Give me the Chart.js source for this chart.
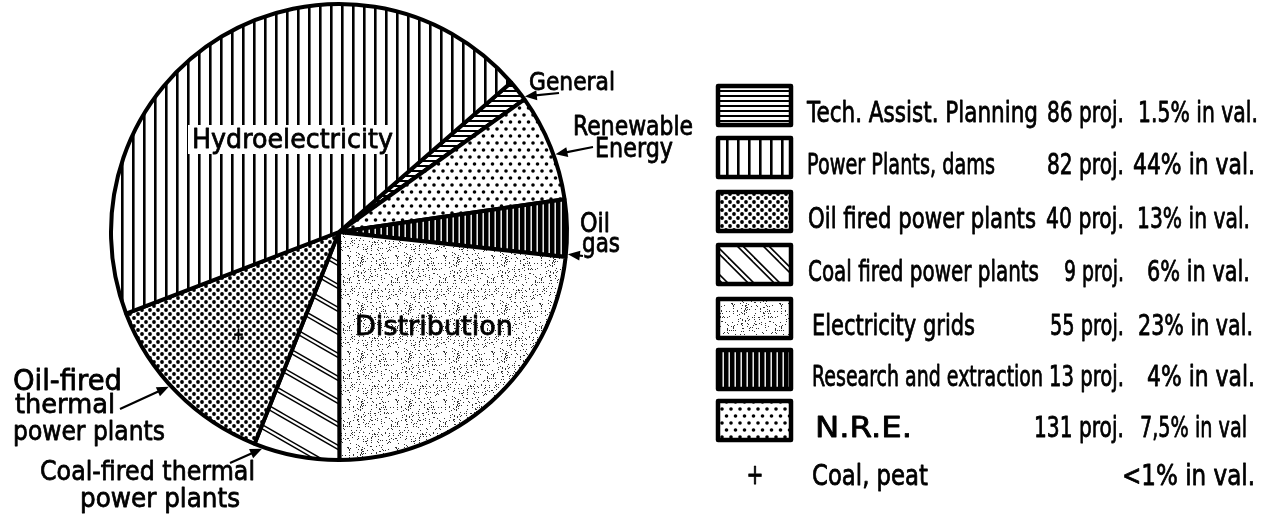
<!DOCTYPE html>
<html>
<head>
<meta charset="utf-8">
<script src="https://cdn.jsdelivr.net/npm/chart.js@4"></script>
<style>
  html, body { margin: 0; background: #fff; }
  #wrap { width: 1275px; height: 516px; }
</style>
</head>
<body>
<div id="wrap"><canvas id="pie" width="1275" height="516"></canvas></div>
<script>
// Slices, clockwise from the top right (General)
const sliceLabels = ['General', 'Renewable Energy', 'Oil gas', 'Distribution',
  'Coal-fired thermal power plants', 'Oil-fired thermal power plants', 'Hydroelectricity'];
const sliceValues = [1.5, 7.5, 4, 23, 6, 13, 44];
const sliceFills = ['hLines', 'sparseDots', 'blackBars', 'stipple', 'diagonal', 'denseDots', 'vLines'];

// Legend rows
const legendNames = ['Tech. Assist. Planning', 'Power Plants, dams', 'Oil fired power plants',
  'Coal fired power plants', 'Electricity grids', 'Research and extraction', 'N.R.E.', 'Coal, peat'];
const legendProjects = ['86 proj.', '82 proj.', '40 proj.', '9 proj.', '55 proj.', '13 proj.', '131 proj.', ''];
const legendShares = ['1.5% in val.', '44% in val.', '13% in val.', '6% in val.',
  '23% in val.', '4% in val.', '7,5% in val', '<1% in val.'];
const legendFills = ['hLines', 'vLines', 'denseDots', 'diagonal45', 'stipple', 'blackBars', 'sparseDots', null];

const FONT = '"DejaVu Sans", "Liberation Sans", sans-serif';

// --- hatch patterns -------------------------------------------------------
function tile(w, h, draw) {
    const c = document.createElement('canvas');
    c.width = w; c.height = h;
    const g = c.getContext('2d');
    g.fillStyle = '#fff';
    g.fillRect(0, 0, w, h);
    g.fillStyle = '#000';
    g.strokeStyle = '#000';
    draw(g, w, h);
    return c;
}

function dots(g, pts, r) {
    pts.forEach(([x, y]) => { g.beginPath(); g.arc(x, y, r, 0, Math.PI * 2); g.fill(); });
}

function slanted(g, w, h, gap, lw) {
    const len = Math.hypot(w, h);
    const px = -h / len, py = w / len;
    g.lineWidth = lw;
    for (let k = -2; k <= 2; k++) {
        [-gap / 2, gap / 2].forEach(o => {
            g.beginPath();
            g.moveTo(k * w - w + px * o, -h + py * o);
            g.lineTo(k * w + 2 * w + px * o, 2 * h + py * o);
            g.stroke();
        });
    }
}

// small integer hash for the dust texture
function hash(i) {
    let x = Math.imul(i ^ 0x9e3779b9, 0x85ebca6b);
    x ^= x >>> 13;
    x = Math.imul(x, 0xc2b2ae35);
    x ^= x >>> 16;
    return x >>> 0;
}

const tiles = {
    hLines: tile(8, 5, g => g.fillRect(0, 0, 8, 2)),
    vLines: tile(11, 8, g => g.fillRect(0, 0, 2.6, 8)),
    sparseDots: tile(9, 14, g => dots(g, [[2, 3], [6.5, 10]], 1.8)),
    denseDots: tile(8, 8, g => dots(g, [[2, 2], [6, 6]], 1.9)),
    blackBars: tile(6, 4, g => { g.fillRect(0, 0, 6, 4); g.fillStyle = '#fff'; g.fillRect(2.5, 0, 1.4, 4); }),
    stipple: tile(48, 48, g => {
        g.fillStyle = '#333';
        for (let i = 0; i < 230; i++) {
            const v = hash(i + 17);
            g.fillRect(v % 48, (v >>> 8) % 48, 1, 1);
        }
    }),
    diagonal: tile(40, 23, (g, w, h) => slanted(g, w, h, 3.6, 1.4)),
    diagonal45: tile(26, 26, (g, w, h) => slanted(g, w, h, 4, 1.7))
};

const cv = document.getElementById('pie');
const ctx = cv.getContext('2d');
const fills = {};
Object.keys(tiles).forEach(k => fills[k] = ctx.createPattern(tiles[k], 'repeat'));

// --- text helpers ---------------------------------------------------------
// draws text squeezed to a given width, like the narrow hand lettering
function fitText(c, text, x, y, width, size, align) {
    c.save();
    c.font = size + 'px ' + FONT;
    const w = c.measureText(text).width;
    const left = align === 'right' ? x - width : align === 'center' ? x - width / 2 : x;
    c.translate(left, y);
    c.scale(width / w, 1);
    c.textAlign = 'left';
    c.textBaseline = 'alphabetic';
    c.fillStyle = '#000';
    c.strokeStyle = '#000';
    c.lineWidth = 0.8;
    c.lineJoin = 'round';
    c.fillText(text, 0, 0);
    c.strokeText(text, 0, 0);
    c.restore();
}

function arrow(c, x0, y0, x1, y1) {
    const a = Math.atan2(y1 - y0, x1 - x0);
    c.save();
    c.strokeStyle = '#000';
    c.fillStyle = '#000';
    c.lineWidth = 2.2;
    c.beginPath(); c.moveTo(x0, y0); c.lineTo(x1 - 8 * Math.cos(a), y1 - 8 * Math.sin(a)); c.stroke();
    c.beginPath();
    c.moveTo(x1, y1);
    c.lineTo(x1 - 12 * Math.cos(a) + 5 * Math.sin(a), y1 - 12 * Math.sin(a) - 5 * Math.cos(a));
    c.lineTo(x1 - 12 * Math.cos(a) - 5 * Math.sin(a), y1 - 12 * Math.sin(a) + 5 * Math.cos(a));
    c.closePath(); c.fill();
    c.restore();
}

// text lines around the pie: [text, left x, baseline, width, size]
const pieText = [
    ['Hydroelectricity', 192, 148, 201, 27],
    ['Distribution', 355, 335, 158, 26],
    ['General', 529, 90, 86, 24],
    ['Renewable', 573, 135, 120, 26],
    ['Energy', 595, 157, 78, 26],
    ['Oil', 580, 232, 30, 26],
    ['gas', 582, 252, 38, 26],
    ['Oil-fired', 13, 390, 109, 28],
    ['thermal', 15, 413, 100, 27],
    ['power plants', 13, 440, 152, 27],
    ['Coal-fired thermal', 40, 480, 215, 27],
    ['power plants', 80, 507, 160, 27]
];
// clear band behind the label inside the hydro slice: [x, y, w, h]
const hydroGap = [188, 125, 208, 29];
// leader arrows: slice index, position along the slice, tail point
const pointers = [
    [0, 0.9, 559, 93],
    [1, 0.58, 593, 147],
    [2, 0.95, 583, 256],
    [5, 0.55, 120, 409],
    [4, 0.9, 230, 463]
];
// legend layout
const rowBase = [122, 174, 228, 281, 335, 386, 437, 485];
const nameSpan = [[807, 231], [807, 188], [808, 228], [808, 231], [812, 163], [812, 231], [815, 97], [812, 116]];
const projSpan = [77, 77, 78, 60, 74, 75, 90, 0];
const shareSpan = [[1138, 120], [1133, 122], [1137, 113], [1147, 103], [1138, 115], [1147, 108], [1140, 107], [1122, 133]];

const annotate = {
    id: 'annotate',
    afterDatasetsDraw(chart) {
        const c = chart.ctx;
        const arcs = chart.getDatasetMeta(0).data;
        c.save();
        c.fillStyle = '#fff';
        c.fillRect(...hydroGap);
        c.restore();
        pieText.forEach(([t, x, y, w, s]) => fitText(c, t, x, y, w, s, 'left'));
        pointers.forEach(([i, t, x0, y0]) => {
            const p = arcs[i].getProps(['x', 'y', 'startAngle', 'endAngle', 'outerRadius'], true);
            const a = p.startAngle + t * (p.endAngle - p.startAngle);
            const r = p.outerRadius + 2;
            arrow(c, x0, y0, p.x + r * Math.cos(a), p.y + r * Math.sin(a));
        });
        // coal & peat marker inside the oil-fired slice
        const o = arcs[5].getProps(['x', 'y', 'startAngle', 'endAngle', 'outerRadius'], true);
        const ma = o.startAngle + 0.48 * (o.endAngle - o.startAngle);
        fitText(c, '+', o.x + 0.63 * o.outerRadius * Math.cos(ma), o.y + 0.63 * o.outerRadius * Math.sin(ma) + 5, 11, 18, 'center');

        // legend
        legendNames.forEach((name, i) => {
            const y = rowBase[i];
            if (legendFills[i]) {
                c.save();
                c.fillStyle = fills[legendFills[i]];
                c.fillRect(718, y - 36, 73, 39);
                c.lineWidth = 4.5;
                c.lineJoin = 'round';
                c.strokeStyle = '#000';
                c.strokeRect(718, y - 36, 73, 39);
                c.restore();
            } else {
                fitText(c, '+', 755, y - 1, 17, 28, 'center');
            }
            fitText(c, name, nameSpan[i][0], y, nameSpan[i][1], 28, 'left');
            if (legendProjects[i]) fitText(c, legendProjects[i], 1124, y, projSpan[i], 28, 'right');
            fitText(c, legendShares[i], shareSpan[i][0], y, shareSpan[i][1], 28, 'left');
        });
    }
};

new Chart(cv, {
    type: 'pie',
    data: {
        labels: sliceLabels,
        datasets: [{
            data: sliceValues,
            backgroundColor: sliceFills.map(k => fills[k]),
            borderColor: '#000',
            borderWidth: 4
        }]
    },
    options: {
        responsive: false,
        animation: false,
        rotation: 49,
        radius: 228,
        layout: { padding: { left: 0, right: 597, top: 0, bottom: 52 } },
        plugins: { legend: { display: false }, tooltip: { enabled: false } }
    },
    plugins: [annotate]
});
</script>
</body>
</html>
